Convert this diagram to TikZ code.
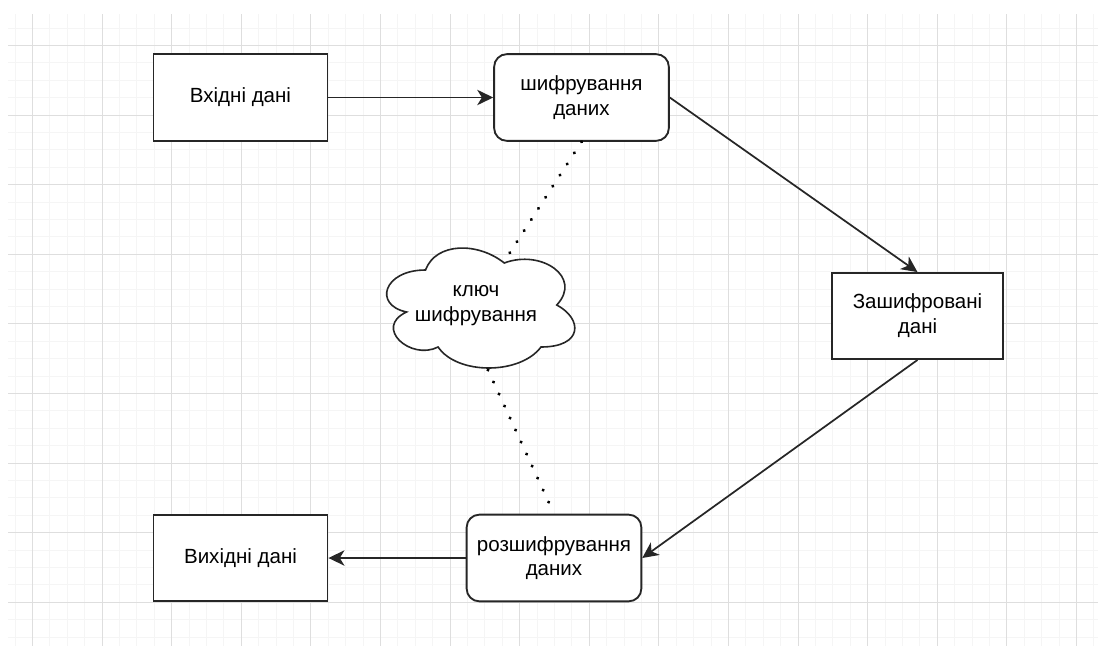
\documentclass[tikz,border=0pt]{standalone}
\usepackage{fontspec}
\setmainfont{Liberation Sans}
\usetikzlibrary{arrows.meta}

\tikzset{
  lbl/.style={font=\fontsize{15.4pt}{18.6pt}\selectfont, align=center, text=black},
  plainbox/.style={lbl, draw=black!85, line width=1.4pt, fill=white, inner sep=0pt,
                   minimum width=130.5pt, minimum height=65pt},
  roundbox/.style={plainbox, rounded corners=9.5pt},
  flow/.style={draw=black!85, line width=1.3pt,
               -{Stealth[length=12pt,width=11.5pt,inset=3.5pt]}},
  keylink/.style={draw=black, line width=2.6pt, line cap=round,
                  dash pattern=on 0.01pt off 9.9pt},
  minorgrid/.style={draw=black!4, line width=0.75pt},
  majorgrid/.style={draw=black!13, line width=0.75pt}
}

\begin{document}
\begin{tikzpicture}[x=0.75pt, y=-0.75pt]
  \useasboundingbox (0,0) rectangle (1098,646);
  \fill[white] (0,0) rectangle (1098,646);

  % background grid, lines snapped to whole pixels
  \begin{scope}
    \clip (8,14) rectangle (1098,646);
    \foreach \i in {0,...,62} {
      \pgfmathsetmacro{\gx}{round(14.6+17.4*\i)+0.5}
      \draw[minorgrid] (\gx,14) -- (\gx,646);
    }
    \foreach \i in {0,...,36} {
      \pgfmathsetmacro{\gy}{round(27.6+17.4*\i)+0.5}
      \draw[minorgrid] (8,\gy) -- (1098,\gy);
    }
    \foreach \k in {0,...,15} {
      \pgfmathsetmacro{\gx}{round(32+69.6*\k)+0.5}
      \draw[majorgrid] (\gx,14) -- (\gx,646);
    }
    \foreach \k in {0,...,8} {
      \pgfmathsetmacro{\gy}{round(45+69.6*\k)+0.5}
      \draw[majorgrid] (8,\gy) -- (1098,\gy);
    }
  \end{scope}

  % process boxes
  \node[plainbox, minimum width=130.5pt] (in)  at (240.5,97.5) {Вхідні дані};
  \node[roundbox, minimum width=131pt]   (enc) at (581.5,97.5) {шифрування\\даних};
  \node[plainbox, minimum width=128.5pt, minimum height=64.5pt] (cip) at (917.5,316) {Зашифровані\\дані};
  \node[roundbox, minimum width=131pt]   (dec) at (554,558) {розшифрування\\даних};
  \node[plainbox, minimum width=130.5pt] (out) at (240.5,558) {Вихідні дані};

  % key cloud
  \draw[draw=black!85, line width=1.2pt, fill=white]
    (425.5,270) .. controls (383.5,270) and (373,305) .. (406.6,312)
    .. controls (373,327.4) and (410.8,361) .. (438.1,347)
    .. controls (457,375) and (520,375) .. (541,347)
    .. controls (583,347) and (583,319) .. (556.75,305)
    .. controls (583,277) and (541,249) .. (504.25,263)
    .. controls (478,242) and (436,242) .. (425.5,270) -- cycle;
  \node[lbl] (key) at (476,306) {ключ\\шифрування};
  \coordinate (keytop) at (504.5,261);
  \coordinate (keybot) at (488,370);

  % data flow
  \draw[flow] (in.east) -- (enc.west);
  \draw[flow] (enc.east) -- (cip.north);
  \draw[flow] (cip.south) -- (dec.east);
  \draw[flow] (dec.west) -- (out.east);

  % key usage
  \draw[keylink] (enc.south) -- (keytop);
  \draw[keylink] (keybot) -- (dec.north);
\end{tikzpicture}
\end{document}
